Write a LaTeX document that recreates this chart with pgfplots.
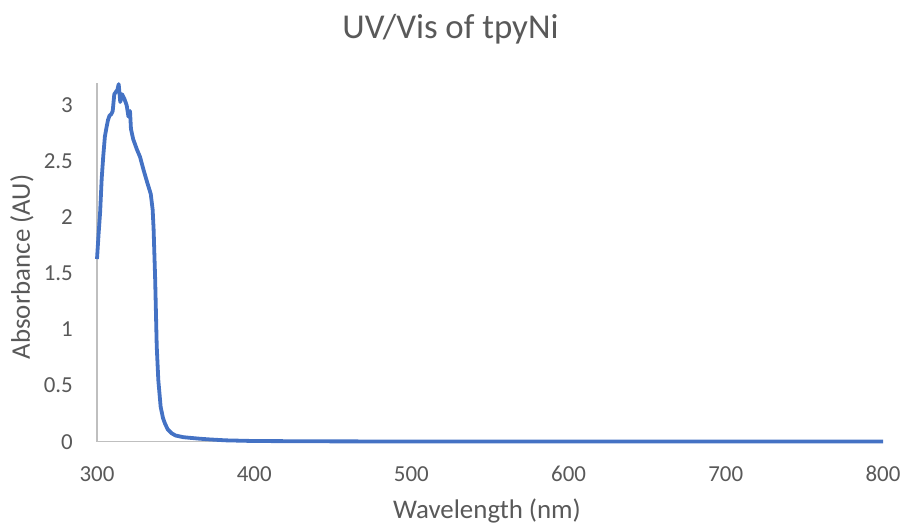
\documentclass[border=0pt]{standalone}
\usepackage{fontspec}
\setmainfont{Carlito}
\usepackage{pgfplots}
\pgfplotsset{compat=1.18}
\definecolor{xblue}{HTML}{4472C4}
\definecolor{axgray}{HTML}{BFBFBF}
\definecolor{txt}{HTML}{595959}
\begin{document}
\begin{tikzpicture}
\path[use as bounding box] (-97bp,-83.3bp) rectangle (804bp,441.7bp);
\begin{axis}[
  at={(0,0)}, anchor=south west,
  scale only axis, width=786bp, height=358.7bp,
  xmin=300, xmax=800, ymin=0, ymax=3.2,
  axis x line*=bottom, axis y line*=left,
  axis line style={axgray, line width=1.2bp, -},
  xtick={300,400,500,600,700,800},
  ytick={0,0.5,1,1.5,2,2.5,3},
  major tick length=0pt,
  /pgf/number format/assume math mode=true,
  tick label style={font=\fontsize{23}{27}\selectfont, color=txt, inner sep=0pt},
  xticklabel style={anchor=base, yshift=-40bp},
  yticklabel style={anchor=east, xshift=-24bp},
  clip=false,
]
\addplot[xblue, line width=3.8bp, line join=round] coordinates {
(300,1.63) (301,1.85) (302,2.05) (303,2.35) (304,2.55) (305,2.72) (306,2.80)
(307,2.87) (308,2.91) (309,2.92) (310,2.95) (311,3.10) (312,3.12) (313,3.14)
(313.8,3.19) (314.8,3.03) (315.9,3.10) (317.4,3.06) (318.9,3.00) (320,2.90)
(321,2.95) (321.6,2.79) (323,2.70) (325.3,2.61) (327.4,2.54) (329.5,2.43)
(332,2.31) (334.2,2.21) (335.4,2.07) (336,1.9) (337,1.45) (338,0.85)
(339,0.55) (340.5,0.31) (342,0.21) (343.3,0.16) (345,0.11) (347.5,0.075)
(350,0.055) (355,0.04) (365,0.027) (372,0.02) (382,0.012) (400,0.006)
(450,0.003) (500,0.002) (600,0.001) (700,0.001) (800,0.001)
};
\end{axis}
\node[color=txt, font=\fontsize{35}{40}\selectfont, anchor=base] at (353.5bp,403.4bp) {UV/Vis of tpyNi};
\node[color=txt, font=\fontsize{27}{32}\selectfont, anchor=base] at (390bp,-76.6bp) {Wavelength (nm)};
\node[color=txt, font=\fontsize{27}{32}\selectfont, rotate=90] at (-75bp,174.7bp) {Absorbance (AU)};
\end{tikzpicture}
\end{document}
